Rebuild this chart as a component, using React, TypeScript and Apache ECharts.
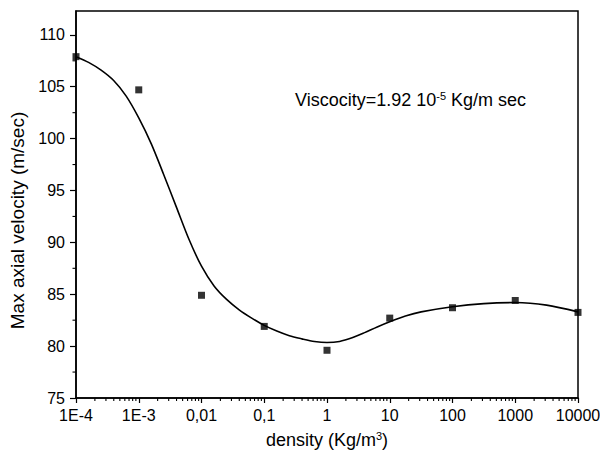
import React, { useEffect, useRef } from "react";
import * as echarts from "echarts";

// Measured points
const densities = [1e-4, 1e-3, 0.01, 0.1, 1, 10, 100, 1000, 10000];
const velocities = [107.9, 104.7, 84.9, 81.9, 79.6, 82.7, 83.7, 84.4, 83.25];

// Fitted curve (x as log10 of density)
const fitLogDensity = [-4, -3.8, -3.6, -3.4, -3.2, -3.0, -2.8, -2.6, -2.4, -2.2, -2.0, -1.8, -1.6, -1.4, -1.2, -1.0, -0.8, -0.6, -0.4, -0.2, 0, 0.2, 0.4, 0.6, 0.8, 1.0, 1.25, 1.5, 2.0, 2.5, 3.0, 3.5, 4.0];
const fitVelocity = [107.9, 107.35, 106.6, 105.6, 104.1, 102.0, 99.5, 96.5, 93.4, 90.3, 87.7, 85.8, 84.5, 83.5, 82.7, 82.0, 81.45, 81.0, 80.7, 80.45, 80.35, 80.45, 80.8, 81.3, 81.85, 82.35, 82.9, 83.3, 83.8, 84.1, 84.2, 83.95, 83.3];

// Axis ticks
const xTickExponents = [-4, -3, -2, -1, 0, 1, 2, 3, 4];
const xTickLabels = ["1E-4", "1E-3", "0,01", "0,1", "1", "10", "100", "1000", "10000"];
const yTicks = [75, 80, 85, 90, 95, 100, 105, 110];
const yMinorTicks = [77.5, 82.5, 87.5, 92.5, 97.5, 102.5, 107.5];
const minorMultipliers = [2, 3, 4, 5, 6, 7, 8, 9];

const FONT = "Liberation Sans, Arial, sans-serif";

export default function App() {
  const ref = useRef<HTMLDivElement>(null);
  useEffect(() => {
    document.body.style.margin = "0";
    if (!ref.current) return;
    const chart = echarts.init(ref.current, undefined, { renderer: "svg" });

    const xMinor: number[][] = [];
    for (let d = -4; d < 4; d++) {
      for (const k of minorMultipliers) xMinor.push([d + Math.log10(k), 75]);
    }

    chart.setOption({
      animation: false,
      backgroundColor: "#fff",
      grid: {
        left: 76,
        right: 22,
        top: 11,
        bottom: 61,
        show: true,
        borderColor: "#000",
        borderWidth: 1.5,
        outerBoundsMode: "none",
      },
      xAxis: {
        type: "value",
        min: -4,
        max: 4,
        interval: 1,
        name: "{a|density (Kg/m}{s|3}{a|)}",
        nameLocation: "middle",
        nameGap: 32,
        nameTextStyle: {
          rich: {
            a: { fontFamily: FONT, fontSize: 18, color: "#000" },
            s: { fontFamily: FONT, fontSize: 11, color: "#000", verticalAlign: "top", padding: [0, 0, 9, 0] },
          },
        },
        axisLine: { show: true, onZero: false, lineStyle: { color: "#000", width: 1.5 } },
        axisTick: { show: true, length: 5, inside: false, lineStyle: { color: "#000", width: 1.2 } },
        axisLabel: {
          color: "#000",
          fontFamily: FONT,
          fontSize: 16,
          margin: 9,
          formatter: (v: number) => {
            const i = xTickExponents.indexOf(Math.round(v));
            return i >= 0 ? xTickLabels[i] : "";
          },
        },
        splitLine: { show: false },
      },
      yAxis: {
        type: "value",
        min: 75,
        max: 112.3,
        interval: 5,
        name: "Max axial velocity (m/sec)",
        nameLocation: "middle",
        nameGap: 46,
        nameTextStyle: { fontFamily: FONT, fontSize: 19, color: "#000", padding: [0, 32, 0, 0] },
        axisLine: { show: true, onZero: false, lineStyle: { color: "#000", width: 1.5 } },
        axisTick: { show: true, length: 6, customValues: yTicks, lineStyle: { color: "#000", width: 1.2 } },
        axisLabel: { color: "#000", fontFamily: FONT, fontSize: 16, margin: 11, customValues: yTicks },
        splitLine: { show: false },
      },
      graphic: [
        {
          type: "text",
          left: 295,
          top: 90,
          style: {
            text: "{a|Viscocity=1.92 10}{s|-5}{a| Kg/m sec}",
            rich: {
              a: { fontFamily: FONT, fontSize: 18, fill: "#000" },
              s: { fontFamily: FONT, fontSize: 11, fill: "#000", verticalAlign: "top", padding: [0, 0, 9, 0] },
            },
          },
        },
      ],
      series: [
        {
          type: "line",
          data: fitLogDensity.map((x, i) => [x, fitVelocity[i]]),
          smooth: 0.3,
          showSymbol: false,
          lineStyle: { color: "#000", width: 1.6 },
          z: 2,
        },
        {
          type: "scatter",
          data: densities.map((d, i) => [Math.log10(d), velocities[i]]),
          symbol: "rect",
          symbolSize: 7,
          itemStyle: { color: "#000" },
          clip: false,
          z: 3,
        },
        {
          type: "custom",
          clip: false,
          silent: true,
          data: xMinor,
          renderItem: (params: any, api: any) => {
            const p = api.coord([api.value(0), 75]);
            return {
              type: "line",
              shape: { x1: p[0], y1: p[1], x2: p[0], y2: p[1] + 3 },
              style: { stroke: "#000", lineWidth: 1.1 },
            };
          },
        },
        {
          type: "custom",
          clip: false,
          silent: true,
          data: yMinorTicks.map((v) => [-4, v]),
          renderItem: (params: any, api: any) => {
            const p = api.coord([-4, api.value(1)]);
            return {
              type: "line",
              shape: { x1: p[0] - 3.5, y1: p[1], x2: p[0], y2: p[1] },
              style: { stroke: "#000", lineWidth: 1.1 },
            };
          },
        },
      ],
    });
    return () => chart.dispose();
  }, []);
  return <div ref={ref} style={{ width: 600, height: 459 }} />;
}
